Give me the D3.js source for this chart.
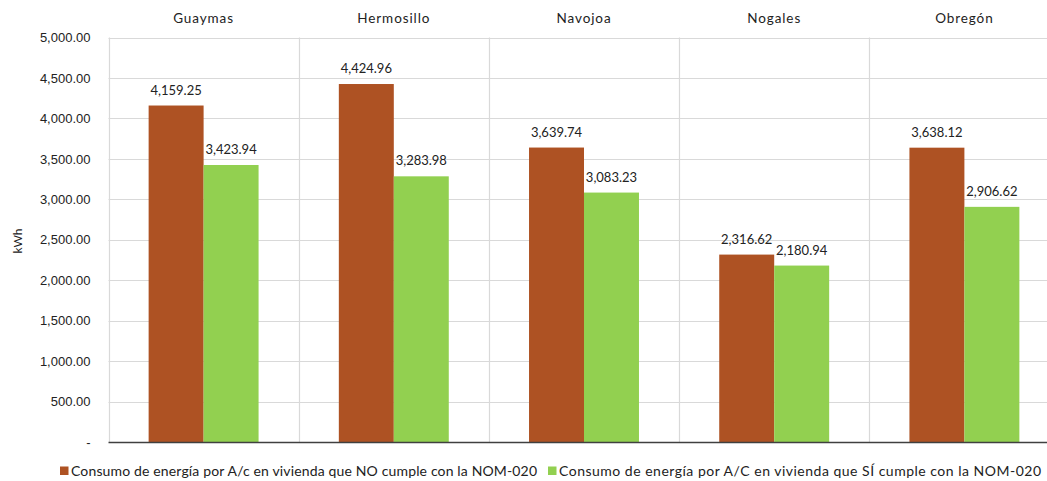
<!DOCTYPE html>
<html>
<head>
<meta charset="utf-8">
<script src="https://cdn.jsdelivr.net/npm/d3@7"></script>
<style>
  html, body { margin: 0; padding: 0; background: #fff; overflow: hidden; }
  svg { display: block; font-family: Lato, "Noto Sans", sans-serif; }
</style>
</head>
<body>
<svg id="chart" width="1047" height="481"></svg>
<script>
// Cities (one panel each)
const cities = ["Guaymas", "Hermosillo", "Navojoa", "Nogales", "Obregón"];
// Annual A/C energy use, kWh
const noCumple = [4159.25, 4424.96, 3639.74, 2316.62, 3638.12];
const siCumple = [3423.94, 3283.98, 3083.23, 2180.94, 2906.62];
const seriesNames = [
  "Consumo de energía por A/c en vivienda que NO cumple con la NOM-020",
  "Consumo de energía por A/C en vivienda que SÍ cumple con la NOM-020"
];
const seriesColors = ["#AE5223", "#92D050"];
const yTicks = [0, 500, 1000, 1500, 2000, 2500, 3000, 3500, 4000, 4500, 5000];

const svg = d3.select("#chart");
const plot = { left: 108.5, right: 1059.5, top: 37.5, bottom: 442 };

const x = d3.scaleBand().domain(cities).range([plot.left, plot.right]).paddingInner(0).paddingOuter(0);
const inner = d3.scaleBand().domain([0, 1]).range([0, x.bandwidth()]).paddingInner(0).paddingOuter(0.73);
const y = d3.scaleLinear().domain([0, 5000]).range([plot.bottom, plot.top]);

const fmt = d3.format(",.2f");

// horizontal gridlines
svg.append("g").selectAll("line").data(yTicks.filter(d => d > 0)).join("line")
  .attr("x1", plot.left).attr("x2", plot.right)
  .attr("y1", d => Math.round(y(d)) + 0.5).attr("y2", d => Math.round(y(d)) + 0.5)
  .attr("stroke", "#d9d9d9").attr("stroke-width", 1.2);

// panel separators
svg.append("g").selectAll("line").data(cities).join("line")
  .attr("x1", d => Math.round(x(d)) + 0.5).attr("x2", d => Math.round(x(d)) + 0.5)
  .attr("y1", plot.top).attr("y2", plot.bottom)
  .attr("stroke", "#d9d9d9").attr("stroke-width", 1.2);

// y axis
const yAxis = d3.axisLeft(y).tickValues(yTicks).tickSize(0).tickPadding(18)
  .tickFormat(d => d === 0 ? "-" : fmt(d));
const yg = svg.append("g").attr("transform", `translate(${plot.left},0)`).call(yAxis);
yg.select(".domain").remove();
yg.selectAll("text").attr("font-size", 13).attr("fill", "#222");

// city labels on top
svg.append("g").selectAll("text").data(cities).join("text")
  .attr("x", d => x(d) + x.bandwidth() / 2).attr("y", 23)
  .attr("text-anchor", "middle").attr("font-size", 13.5).attr("fill", "#222")
  .attr("letter-spacing", 0.9)
  .text(d => d);

// bars
const series = [noCumple, siCumple];
series.forEach((vals, si) => {
  const g = svg.append("g");
  g.selectAll("rect").data(cities).join("rect")
    .attr("x", d => x(d) + inner(si))
    .attr("width", inner.bandwidth())
    .attr("y", (d, i) => y(vals[i]))
    .attr("height", (d, i) => plot.bottom - y(vals[i]))
    .attr("fill", seriesColors[si]);
  g.selectAll("text").data(cities).join("text")
    .attr("x", d => x(d) + inner(si) + inner.bandwidth() / 2)
    .attr("y", (d, i) => y(vals[i]) - 11)
    .attr("text-anchor", "middle").attr("font-size", 13).attr("fill", "#222")
    .text((d, i) => fmt(vals[i]));
});

// baseline
svg.append("line")
  .attr("x1", plot.left).attr("x2", plot.right)
  .attr("y1", plot.bottom + 0.5).attr("y2", plot.bottom + 0.5)
  .attr("stroke", "#404040").attr("stroke-width", 1.3);

// y axis title
svg.append("text")
  .attr("transform", "translate(22,241) rotate(-90)")
  .attr("text-anchor", "middle").attr("font-size", 12).attr("fill", "#222")
  .text("kWh");

// legend
const legend = svg.append("g").attr("transform", "translate(0,476)");
const legX = [60, 548];
const legW = [466, 482];
seriesNames.forEach((name, i) => {
  legend.append("rect").attr("x", legX[i]).attr("y", -9.5).attr("width", 8.5).attr("height", 8.5)
    .attr("fill", seriesColors[i]);
  legend.append("text").attr("x", legX[i] + 11).attr("y", 0)
    .attr("font-size", 14).attr("fill", "#222")
    .attr("textLength", legW[i]).attr("lengthAdjust", "spacing")
    .text(name);
});
</script>
</body>
</html>
